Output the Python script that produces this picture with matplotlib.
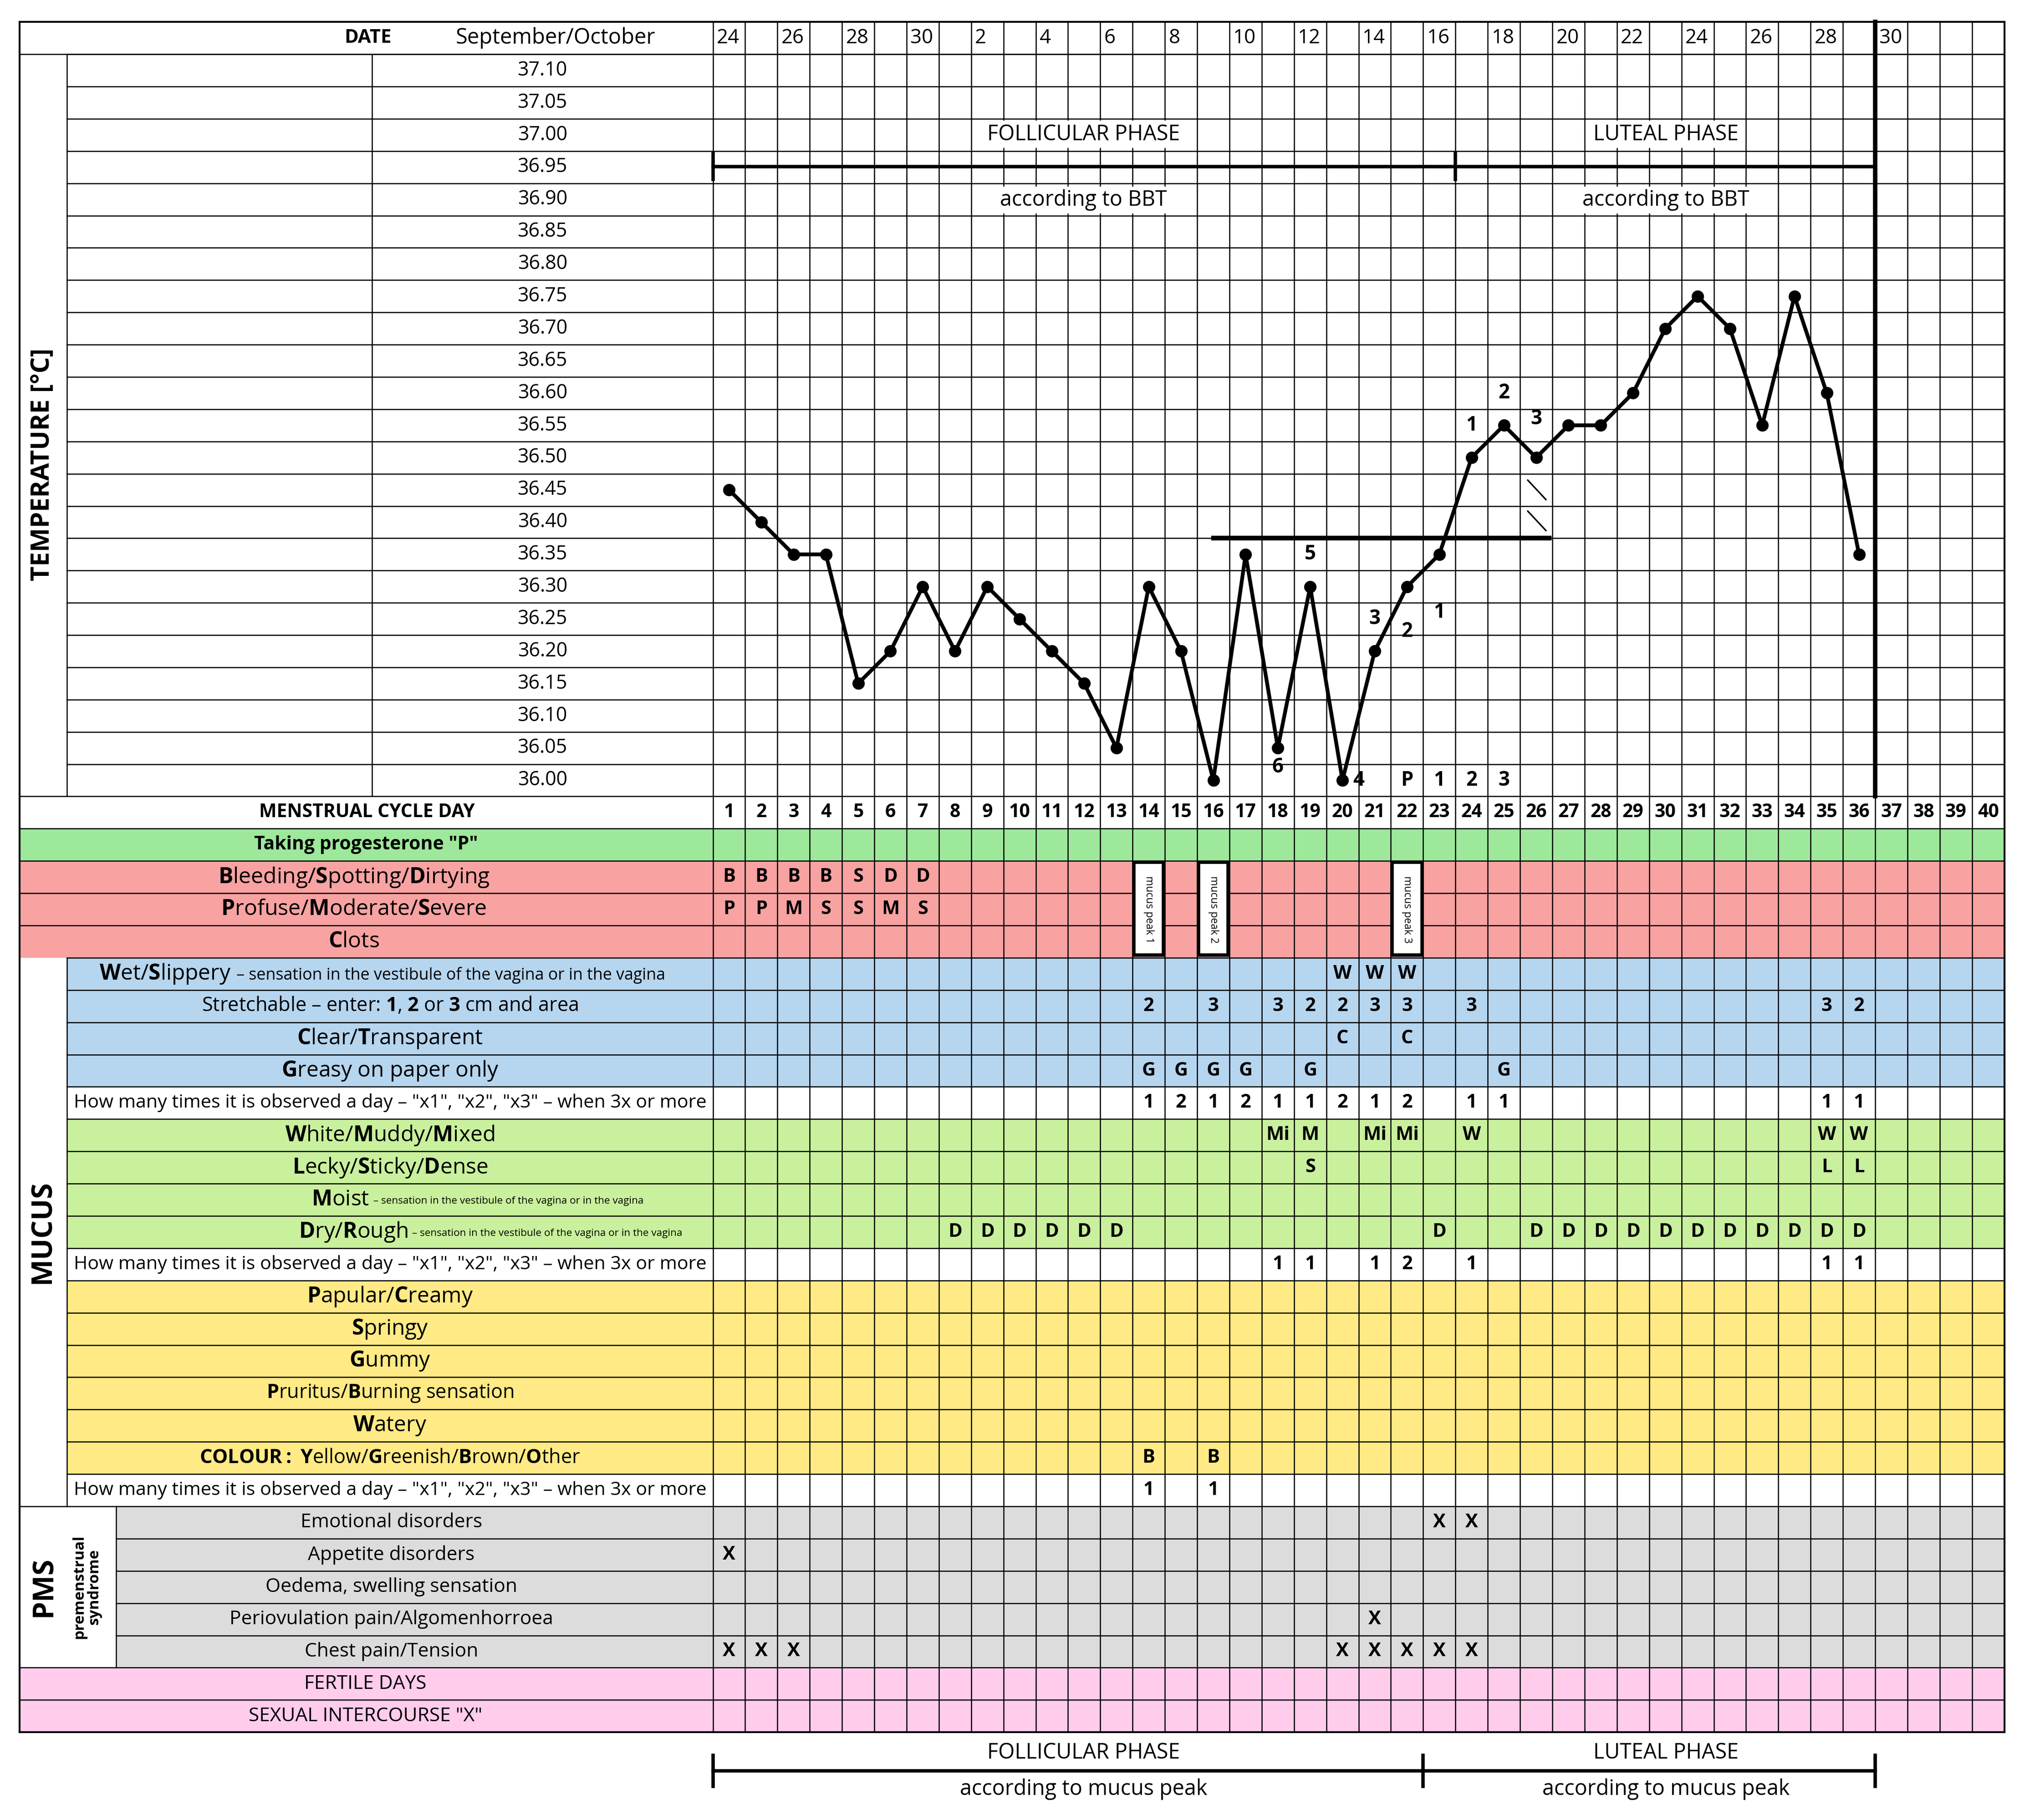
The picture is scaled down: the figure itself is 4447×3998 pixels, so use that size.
import matplotlib
matplotlib.use("Agg")
import matplotlib.pyplot as plt
from matplotlib.patches import Rectangle

plt.rcParams['font.family'] = ['Open Sans', 'DejaVu Sans']
plt.rcParams['mathtext.fontset'] = 'custom'
plt.rcParams['mathtext.rm'] = 'Open Sans'
plt.rcParams['mathtext.bf'] = 'Open Sans:bold'

# ---------------- data ----------------
temp_labels = ["37.10","37.05","37.00","36.95","36.90","36.85","36.80","36.75","36.70","36.65","36.60",
               "36.55","36.50","36.45","36.40","36.35","36.30","36.25","36.20","36.15","36.10","36.05","36.00"]
cycle_days = list(range(1, 37))
temperatures = [36.45,36.40,36.35,36.35,36.15,36.20,36.30,36.20,36.30,36.25,36.20,36.15,36.05,36.30,36.20,
                36.00,36.35,36.05,36.30,36.00,36.20,36.30,36.35,36.50,36.55,36.50,36.55,36.55,36.60,36.70,
                36.75,36.70,36.55,36.75,36.60,36.35]
date_cols = [1,3,5,7,9,11,13,15,17,19,21,23,25,27,29,31,33,35,37]
date_labels = ["24","26","28","30","2","4","6","8","10","12","14","16","18","20","22","24","26","28","30"]
cover_temp = 36.375
peak_marks = [(24,36.55,"1"),(25,36.60,"2"),(26,36.56,"3"),
              (19,36.35,"5"),(18,36.02,"6"),(20.5,36.00,"4"),(21,36.25,"3"),(22,36.23,"2"),(23,36.26,"1"),
              (22,36.00,"P"),(23,36.00,"1"),(24,36.00,"2"),(25,36.00,"3")]

dry_days = [8,9,10,11,12,13,23,26,27,28,29,30,31,32,33,34,35,36]
SMALL = ' – sensation in the vestibule of the vagina or in the vagina'
rows = [
    ('Taking progesterone "P"', '#9DE89A', 15, 'bold', {}),
    (r'$\mathbf{B}$leeding/$\mathbf{S}$potting/$\mathbf{D}$irtying', '#F8A2A2', 15, 'red',
     {1:'B',2:'B',3:'B',4:'B',5:'S',6:'D',7:'D'}),
    (r'$\mathbf{P}$rofuse/$\mathbf{M}$oderate/$\mathbf{S}$evere', '#F8A2A2', 15, 'red',
     {1:'P',2:'P',3:'M',4:'S',5:'S',6:'M',7:'S'}),
    (r'$\mathbf{C}$lots', '#F8A2A2', 15, 'red', {}),
    ((r'$\mathbf{W}$et/$\mathbf{S}$lippery', SMALL, 179, 8.6),
     '#B6D5EF', 52, 'split', {20:'W',21:'W',22:'W'}),
    (r'Stretchable – enter: $\mathbf{1}$, $\mathbf{2}$ or $\mathbf{3}$ cm and area', '#B6D5EF', 52, 's',
     {14:'2',16:'3',18:'3',19:'2',20:'2',21:'3',22:'3',24:'3',35:'3',36:'2'}),
    (r'$\mathbf{C}$lear/$\mathbf{T}$ransparent', '#B6D5EF', 52, 'n', {20:'C',22:'C'}),
    (r'$\mathbf{G}$reasy on paper only', '#B6D5EF', 52, 'n', {14:'G',15:'G',16:'G',17:'G',19:'G',25:'G'}),
    ('How many times it is observed a day – "x1", "x2", "x3" – when 3x or more', '#FFFFFF', 52, 'h',
     {14:'1',15:'2',16:'1',17:'2',18:'1',19:'1',20:'2',21:'1',22:'2',24:'1',25:'1',35:'1',36:'1'}),
    (r'$\mathbf{W}$hite/$\mathbf{M}$uddy/$\mathbf{M}$ixed', '#C9F09C', 52, 'n',
     {18:'Mi',19:'M',21:'Mi',22:'Mi',24:'W',35:'W',36:'W'}),
    (r'$\mathbf{L}$ecky/$\mathbf{S}$ticky/$\mathbf{D}$ense', '#C9F09C', 52, 'n', {19:'S',35:'L',36:'L'}),
    ((r'$\mathbf{M}$oist', SMALL, 286, 5.4), '#C9F09C', 52, 'split', {}),
    ((r'$\mathbf{D}$ry/$\mathbf{R}$ough', SMALL, 316, 5.4), '#C9F09C', 52, 'split',
     {d: 'D' for d in dry_days}),
    ('How many times it is observed a day – "x1", "x2", "x3" – when 3x or more', '#FFFFFF', 52, 'h',
     {18:'1',19:'1',21:'1',22:'2',24:'1',35:'1',36:'1'}),
    (r'$\mathbf{P}$apular/$\mathbf{C}$reamy', '#FFEA85', 52, 'n', {}),
    (r'$\mathbf{S}$pringy', '#FFEA85', 52, 'n', {}),
    (r'$\mathbf{G}$ummy', '#FFEA85', 52, 'n', {}),
    (r'$\mathbf{P}$ruritus/$\mathbf{B}$urning sensation', '#FFEA85', 52, 's', {}),
    (r'$\mathbf{W}$atery', '#FFEA85', 52, 'n', {}),
    (r'$\mathbf{COLOUR{:}}$ $\mathbf{Y}$ellow/$\mathbf{G}$reenish/$\mathbf{B}$rown/$\mathbf{O}$ther', '#FFEA85', 52, 's',
     {14:'B',16:'B'}),
    ('How many times it is observed a day – "x1", "x2", "x3" – when 3x or more', '#FFFFFF', 52, 'h',
     {14:'1',16:'1'}),
    ('Emotional disorders', '#DCDCDC', 90, 'pms', {23:'X',24:'X'}),
    ('Appetite disorders', '#DCDCDC', 90, 'pms', {1:'X'}),
    ('Oedema, swelling sensation', '#DCDCDC', 90, 'pms', {}),
    ('Periovulation pain/Algomenhorroea', '#DCDCDC', 90, 'pms', {21:'X'}),
    ('Chest pain/Tension', '#DCDCDC', 90, 'pms', {1:'X',2:'X',3:'X',20:'X',21:'X',22:'X',23:'X',24:'X'}),
    ('FERTILE DAYS', '#FFCCEC', 15, 'pms', {}),
    ('SEXUAL INTERCOURSE "X"', '#FFCCEC', 15, 'pms', {}),
]
mucus_peaks = [(14, "mucus peak 1"), (16, "mucus peak 2"), (22, "mucus peak 3")]

# ---------------- layout ----------------
W, H = 1568, 1410
fig = plt.figure(figsize=(4447/300, 3998/300), dpi=300)
ax = fig.add_axes([0, 0, 1, 1])
ax.set_xlim(0, W); ax.set_ylim(H, 0); ax.axis('off')
L, GX, R, CW, RH = 15, 552, 1552, 25, 25
TOP = 17
T0 = 42
T1 = T0 + RH * len(temp_labels)
lw = 0.6
def cx(d): return GX + (d - 0.5) * CW

ax.text(303, TOP + RH/2, "DATE", ha='right', va='center', fontsize=10, fontweight='bold')
ax.text(430, TOP + RH/2, "September/October", ha='center', va='center', fontsize=11.3)
for c, lab in zip(date_cols, date_labels):
    ax.text(GX + (c - 1) * CW + 3, TOP + RH/2, lab, ha='left', va='center', fontsize=10.5)

for i, lab in enumerate(temp_labels):
    y = T0 + i * RH
    ax.plot([52, R], [y, y], color='k', lw=lw)
    ax.text(420, y + RH/2, lab, ha='center', va='center', fontsize=10.3)
ax.plot([L, R], [TOP, TOP], color='k', lw=1)
ax.plot([L, R], [T0, T0], color='k', lw=lw)
for x in (52, 288):
    ax.plot([x, x], [T0, T1], color='k', lw=lw)
ax.text(33, 360, "TEMPERATURE [°C]", rotation=90, ha='center', va='center', fontsize=13.5, fontweight='bold')

y = T1
ax.plot([L, R], [y, y], color='k', lw=lw)
ax.text(284, y + RH/2, "MENSTRUAL CYCLE DAY", ha='center', va='center', fontsize=9.8, fontweight='bold')
for d in range(1, 41):
    ax.text(cx(d), y + RH/2, str(d), ha='center', va='center', fontsize=9.8, fontweight='bold')

y0 = T1 + RH
for i, (lab, col, lx, kind, cells) in enumerate(rows):
    y = y0 + i * RH
    ax.add_patch(Rectangle((L, y), R - L, RH, facecolor=col, edgecolor='none', zorder=0))
    ax.plot([lx, R], [y, y], color='k', lw=lw)
    c = (lx + GX) / 2
    yc = y + RH/2
    if kind == 'split':
        main, small, xe, fs = lab
        ax.text(xe, yc, main, ha='right', va='center', fontsize=11.5)
        ax.text(xe + 1, yc + 1, small, ha='left', va='center', fontsize=fs)
    elif kind == 'bold':
        ax.text(c, yc, lab, ha='center', va='center', fontsize=9.8, fontweight='bold')
    elif kind == 'red':
        ax.text(274, yc, lab, ha='center', va='center', fontsize=11.6)
    elif kind == 's':
        ax.text(c, yc, lab, ha='center', va='center', fontsize=10.4)
    elif kind == 'h':
        ax.text(c, yc, lab, ha='center', va='center', fontsize=9.9)
    elif kind == 'pms':
        cc = 303 if lx == 90 else 283
        ax.text(cc, yc, lab, ha='center', va='center', fontsize=10.2)
    else:
        ax.text(c, yc, lab, ha='center', va='center', fontsize=11.5)
    for d, v in cells.items():
        ax.text(cx(d), yc, v, ha='center', va='center', fontsize=10, fontweight='bold')
YB = y0 + len(rows) * RH
ax.plot([L, R], [YB, YB], color='k', lw=1)
ax.plot([L, L], [TOP, YB], color='k', lw=1)
ax.plot([R, R], [TOP, YB], color='k', lw=1)
for d in range(0, 40):
    ax.plot([GX + d * CW] * 2, [TOP, YB], color='k', lw=lw)

mu0 = y0 + 4 * RH; mu1 = y0 + 21 * RH
ax.plot([52, 52], [mu0, mu1], color='k', lw=lw)
ax.add_patch(Rectangle((L, mu0), 52 - L, mu1 - mu0, facecolor='white', edgecolor='none', zorder=0.5))
ax.text(33, (mu0 + mu1) / 2, "MUCUS", rotation=90, ha='center', va='center', fontsize=15, fontweight='bold')
p0 = mu1; p1 = mu1 + 5 * RH
ax.add_patch(Rectangle((L, p0), 90 - L, p1 - p0, facecolor='white', edgecolor='none', zorder=0.5))
ax.plot([90, 90], [p0, p1], color='k', lw=lw)
ax.plot([L, 90], [p0, p0], color='k', lw=lw)
ax.text(34, (p0 + p1) / 2, "PMS", rotation=90, ha='center', va='center', fontsize=15, fontweight='bold')
ax.text(67, (p0 + p1) / 2, "premenstrual\nsyndrome", rotation=90, ha='center', va='center',
        fontsize=8, fontweight='bold', linespacing=1.0)

for d, lab in mucus_peaks:
    x = GX + (d - 1) * CW
    ax.add_patch(Rectangle((x + 1, y0 + RH + 1), CW - 2, 3 * RH - 3, facecolor='white', edgecolor='k', lw=1.8, zorder=3))
    ax.text(x + CW/2, y0 + RH + 1.5 * RH, lab, rotation=-90, ha='center', va='center', fontsize=5.5, zorder=4)

ax.plot([GX + 36 * CW] * 2, [TOP, T1], color='k', lw=2.3, zorder=5)

bb = dict(facecolor='white', edgecolor='none', pad=1.5)
for xx, t1, t2 in ((839, "FOLLICULAR PHASE", "according to BBT"), (1290, "LUTEAL PHASE", "according to BBT")):
    ax.text(xx, 104, t1, ha='center', va='center', fontsize=11.2, bbox=bb, zorder=4)
    ax.text(xx, 155, t2, ha='center', va='center', fontsize=11.2, bbox=bb, zorder=4)
ax.plot([552, 1452], [129, 129], color='k', lw=1.8, zorder=5)
for x in (552, 1127, 1452):
    ax.plot([x, x], [119, 139], color='k', lw=1.8, zorder=5)

ax.plot([552, 1452], [1372, 1372], color='k', lw=1.8)
for x in (552, 1102, 1452):
    ax.plot([x, x], [1360, 1384], color='k', lw=1.8)
for xx, t1 in ((839, "FOLLICULAR PHASE"), (1290, "LUTEAL PHASE")):
    ax.text(xx, 1358, t1, ha='center', va='center', fontsize=11.2)
    ax.text(xx, 1386, "according to mucus peak", ha='center', va='center', fontsize=11.2)

tax = fig.add_axes([GX / W, 1 - T1 / H, (R - GX) / W, (T1 - T0) / H])
tax.set_xlim(0.5, 40.5); tax.set_ylim(35.975, 37.125); tax.axis('off'); tax.patch.set_alpha(0)
tax.plot(cycle_days, temperatures, color='k', lw=2, marker='o', ms=5.5, zorder=6)
tax.plot([16, 26.4], [cover_temp, cover_temp], color='k', lw=2.5, zorder=6)
tax.plot([25.74, 26.3], [36.465, 36.435], color='k', lw=0.8)
tax.plot([25.74, 26.3], [36.417, 36.387], color='k', lw=0.8)
for d, t, s in peak_marks:
    tax.text(d, t, s, ha='center', va='center', fontsize=10.5, fontweight='bold', zorder=7)

fig.savefig("out.png", dpi=300)
